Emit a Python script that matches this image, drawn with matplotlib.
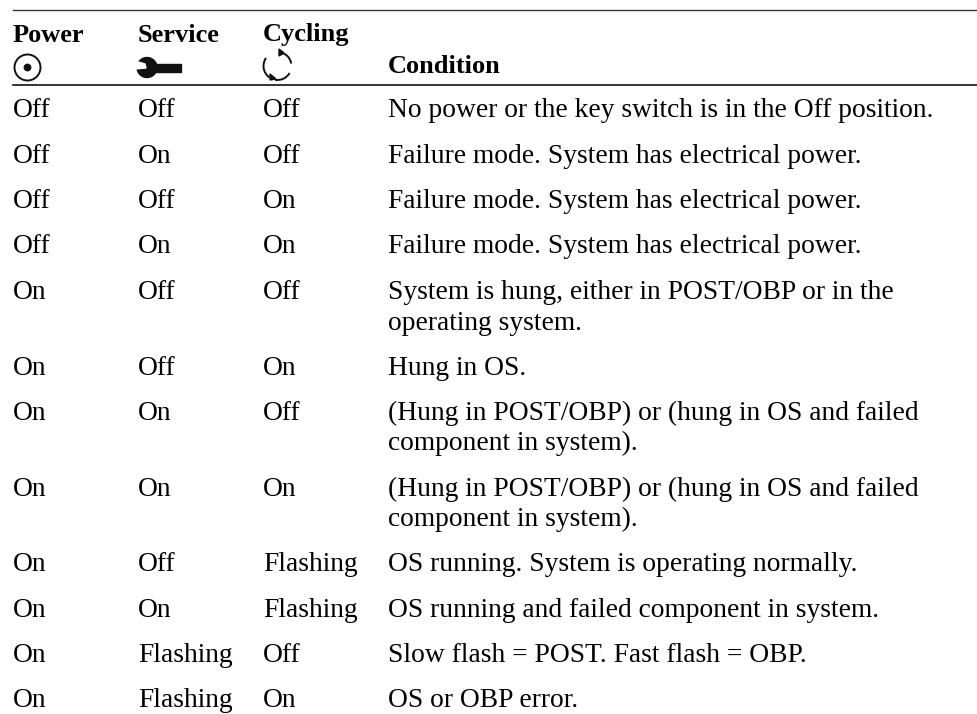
import matplotlib
matplotlib.use('Agg')
import matplotlib.pyplot as plt
from matplotlib.patches import Circle, Arc, Polygon, Rectangle

headers = ['Power', 'Service', 'Cycling', 'Condition']
power = ['Off', 'Off', 'Off', 'Off', 'On', 'On', 'On', 'On', 'On', 'On', 'On', 'On']
service = ['Off', 'On', 'Off', 'On', 'Off', 'Off', 'On', 'On', 'Off', 'On', 'Flashing', 'Flashing']
cycling = ['Off', 'Off', 'On', 'On', 'Off', 'On', 'Off', 'On', 'Flashing', 'Flashing', 'Off', 'On']
condition = ['No power or the key switch is in the Off position.',
             'Failure mode. System has electrical power.',
             'Failure mode. System has electrical power.',
             'Failure mode. System has electrical power.',
             'System is hung, either in POST/OBP or in the\noperating system.',
             'Hung in OS.',
             '(Hung in POST/OBP) or (hung in OS and failed\ncomponent in system).',
             '(Hung in POST/OBP) or (hung in OS and failed\ncomponent in system).',
             'OS running. System is operating normally.',
             'OS running and failed component in system.',
             'Slow flash = POST. Fast flash = OBP.',
             'OS or OBP error.']
row_y = [117, 163, 208, 253, 299, 375, 420, 496, 571, 617, 662, 707]
col_x = [13, 138, 263, 388]

plt.rcParams['font.family'] = ['Liberation Serif', 'DejaVu Serif']
fig = plt.figure(figsize=(9.78, 7.14), dpi=100)
ax = fig.add_axes([0, 0, 1, 1])
ax.set_xlim(0, 978)
ax.set_ylim(714, 0)
ax.axis('off')

fs = 19.8
fs_bold = 19.0
ax.plot([13, 978], [10, 10], color='#333333', lw=1.0)
ax.plot([13, 978], [85, 85], color='#111111', lw=1.2)

ax.text(col_x[0], 41.5, headers[0], fontsize=fs_bold, weight='bold', va='baseline')
ax.text(col_x[1], 41.5, headers[1], fontsize=fs_bold, weight='bold', va='baseline')
ax.text(col_x[2], 41.5, headers[2], fontsize=fs_bold, weight='bold', va='baseline')
ax.text(col_x[3], 73, headers[3], fontsize=fs_bold, weight='bold', va='baseline')

# power icon
ax.add_patch(Circle((27.5, 67.5), 13, fill=False, ec='#111111', lw=1.4))
ax.add_patch(Circle((27.5, 67.5), 3.2, color='#111111'))

# wrench icon
ax.add_patch(Rectangle((150, 64), 31, 7.5, color='#111111'))
ax.add_patch(Circle((147, 67.5), 10, color='#111111'))
ax.add_patch(Polygon([[135, 61], [145, 64], [146, 68], [135, 69]], color='white'))

# cycling icon
for t1, t2 in [(-80, -10), (30, 100), (125, 215)]:
    ax.add_patch(Arc((277.5, 66), 28, 28, theta1=t1, theta2=t2, color='#111111', lw=1.4))
ax.add_patch(Polygon([[279, 49], [284, 53], [279, 56]], color='#111111'))
ax.add_patch(Polygon([[270, 74], [270, 80], [276, 79]], color='#111111'))

for i in range(len(row_y)):
    ax.text(col_x[0], row_y[i], power[i], fontsize=fs, va='baseline')
    ax.text(col_x[1], row_y[i], service[i], fontsize=fs, va='baseline')
    ax.text(col_x[2], row_y[i], cycling[i], fontsize=fs, va='baseline')
    lines = condition[i].split('\n')
    for j in range(len(lines)):
        ax.text(col_x[3], row_y[i] + j * 30.5, lines[j], fontsize=fs, va='baseline')

fig.savefig('out.png', dpi=100)
